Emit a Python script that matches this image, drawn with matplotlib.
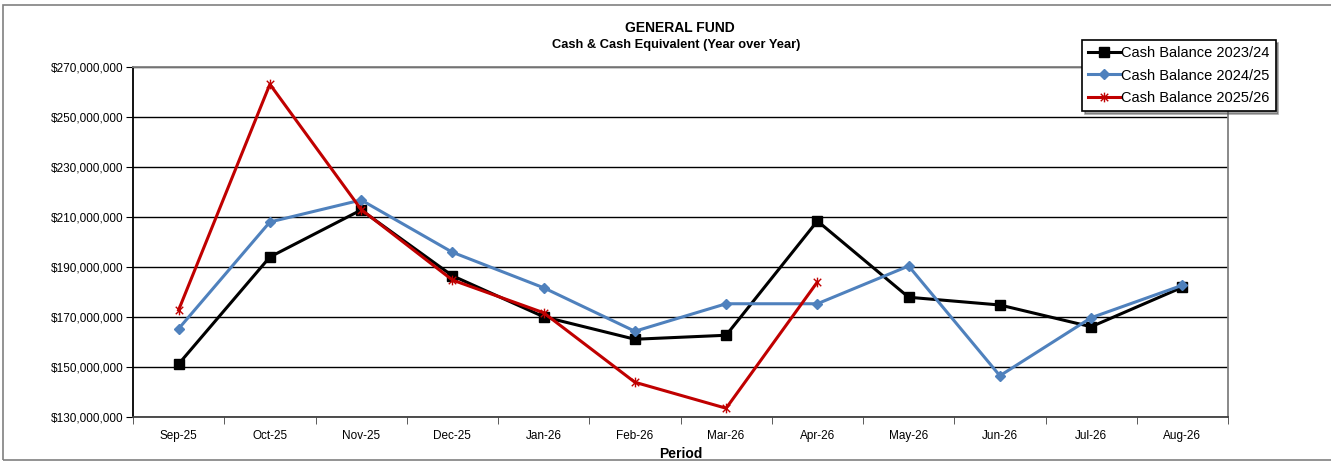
import matplotlib
matplotlib.use("Agg")
import matplotlib.pyplot as plt
import numpy as np
from matplotlib.path import Path
from matplotlib.patches import Rectangle
from matplotlib.ticker import FuncFormatter

plt.rcParams['font.family'] = ['Liberation Sans', 'DejaVu Sans']

# data (millions of dollars)
periods = ['Sep-25', 'Oct-25', 'Nov-25', 'Dec-25', 'Jan-26', 'Feb-26',
           'Mar-26', 'Apr-26', 'May-26', 'Jun-26', 'Jul-26', 'Aug-26']
cash_2324 = [151.2, 194.0, 212.8, 186.5, 170.1, 161.1, 162.7, 208.4, 177.9, 174.8, 166.1, 181.9]
cash_2425 = [165.3, 208.0, 216.8, 195.9, 181.7, 164.3, 175.3, 175.3, 190.4, 146.5, 169.7, 182.7]
cash_2526 = [172.8, 263.1, 213.0, 184.8, 171.7, 143.9, 133.5, 184.0]
y_ticks = np.arange(130, 271, 20)

fig = plt.figure(figsize=(13.31, 4.61), dpi=100)
ax = fig.add_axes([133/1331, 1 - 417/461, (1228 - 133)/1331, (417 - 67)/461])

# outer chart frame (right edge falls off the image like the original)
fig.patches.append(Rectangle((0.0025, 0.002), 1.1, 0.987, transform=fig.transFigure,
                             fill=False, edgecolor='#808080', linewidth=1.2))

x = list(range(len(periods)))
star = Path([(-1, -1), (1, 1), (-1, 1), (1, -1), (0, -1.3), (0, 1.3)],
            [Path.MOVETO, Path.LINETO, Path.MOVETO, Path.LINETO, Path.MOVETO, Path.LINETO])

ax.plot(x, [v * 1e6 for v in cash_2324], color='black', lw=2.2, marker='s', ms=7,
        label='Cash Balance 2023/24', zorder=3)
ax.plot(x, [v * 1e6 for v in cash_2425], color='#4f81bd', lw=2.2, marker='D', ms=5,
        label='Cash Balance 2024/25', zorder=4)
ax.plot(x[:len(cash_2526)], [v * 1e6 for v in cash_2526], color='#c00000', lw=2.2,
        marker=star, ms=7, mew=1.0, mec='#c00000', label='Cash Balance 2025/26', zorder=5)

ax.set_xlim(-0.5, len(periods) - 0.5)
ax.set_ylim(130e6, 270e6)
ax.set_yticks(y_ticks * 1e6)
ax.yaxis.set_major_formatter(FuncFormatter(lambda v, p: '${:,.0f}'.format(v)))
ax.grid(axis='y', color='black', lw=1.0, zorder=0)

ax.set_xticks(x, periods)
ax.set_xticks([i + 0.5 for i in range(-1, len(periods))], minor=True)
ax.tick_params(axis='x', which='major', length=0, pad=9, labelsize=8.5)
ax.tick_params(axis='x', which='minor', length=5, direction='out', color='#404040')
ax.tick_params(axis='y', length=5, direction='out', labelsize=8.5, pad=2)

ax.spines['left'].set_color('black')
ax.spines['bottom'].set_color('#404040')
ax.spines['top'].set_color('#808080')
ax.spines['right'].set_color('#808080')
for s in ax.spines.values():
    s.set_linewidth(1.3)

ax.set_xlabel('Period', fontsize=10, fontweight='bold', labelpad=4)

fig.text(680/1331, 1 - 28/461, 'GENERAL FUND', ha='center', va='center',
         fontsize=10, fontweight='bold')
fig.text(676/1331, 1 - 45/461, 'Cash & Cash Equivalent (Year over Year)', ha='center',
         va='center', fontsize=9.3, fontweight='bold')

leg = fig.legend(loc='upper left', bbox_to_anchor=(1082/1331, 1 - 40/461), fontsize=10.5,
                 frameon=True, fancybox=False, shadow=True, edgecolor='black',
                 framealpha=1, handlelength=2.2, handletextpad=0.1, borderpad=0.4,
                 labelspacing=0.6, borderaxespad=0)
leg.get_frame().set_linewidth(1.2)

fig.savefig('out.png', dpi=100)
